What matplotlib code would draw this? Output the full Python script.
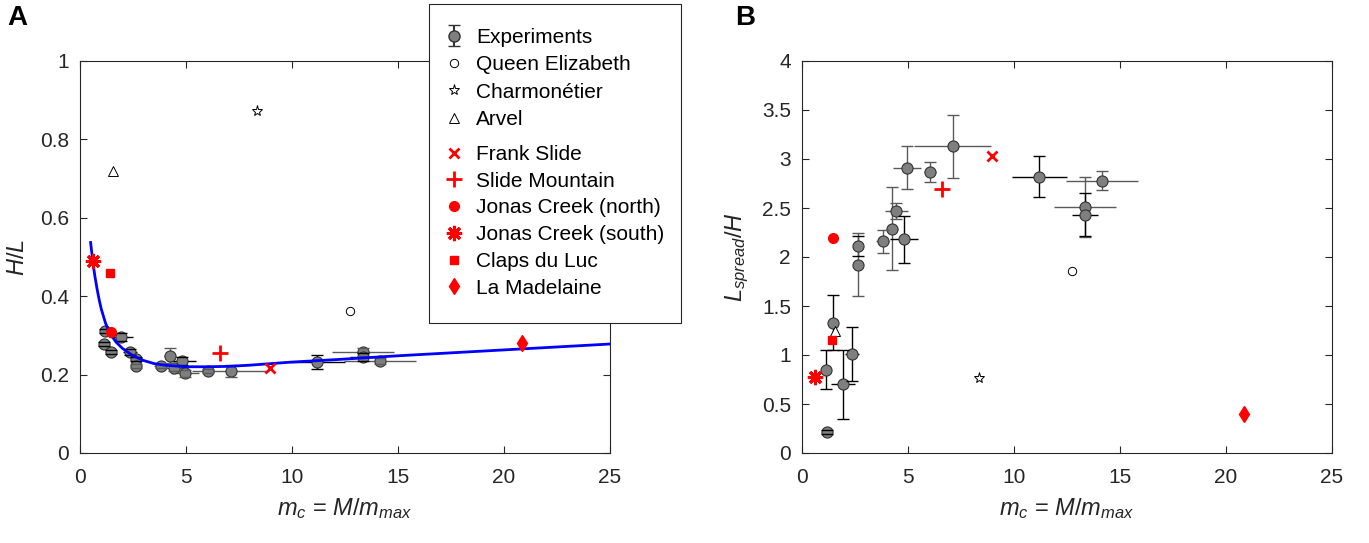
import numpy as np
import matplotlib
matplotlib.use('Agg')
import matplotlib.pyplot as plt
from matplotlib.ticker import FuncFormatter
from matplotlib.patches import Rectangle

plt.rcParams['font.family'] = ['Liberation Sans', 'DejaVu Sans']
plt.rcParams['mathtext.fontset'] = 'custom'
plt.rcParams['mathtext.rm'] = 'Liberation Sans'
plt.rcParams['mathtext.it'] = 'Liberation Sans:italic'

# ---------------- data ----------------
# experiments (same runs in both panels)
exp_m = [1.12, 1.18, 1.46, 1.94, 2.36, 2.62, 2.62, 3.80, 4.24, 4.45,
         4.82, 4.95, 6.04, 7.10, 11.2, 13.35, 13.35, 14.15]
exp_m_err = [0.15, 0.2, 0.15, 0.55, 0.35, 0.2, 0.2, 0.3, 0.3, 0.54,
             0.65, 0.67, 0.28, 1.8, 1.3, 1.48, 0.6, 1.7]
exp_hl = [0.278, 0.312, 0.257, 0.295, 0.257, 0.240, 0.222, 0.223, 0.248, 0.216,
          0.234, 0.203, 0.210, 0.210, 0.232, 0.258, 0.245, 0.235]
exp_hl_err = [0.005, 0.005, 0.005, 0.01, 0.008, 0.005, 0.005, 0.005, 0.019, 0.008,
              0.01, 0.008, 0.005, 0.015, 0.017, 0.01, 0.01, 0.008]
exp_ls = [0.85, 0.21, 1.33, 0.70, 1.01, 2.11, 1.92, 2.16, 2.29, 2.47,
          2.18, 2.91, 2.87, 3.13, 2.82, 2.51, 2.43, 2.78]
exp_ls_err = [0.2, 0.02, 0.28, 0.35, 0.28, 0.1, 0.32, 0.12, 0.42, 0.08,
              0.24, 0.22, 0.1, 0.32, 0.21, 0.31, 0.22, 0.1]
exp_dark = [1, 1, 1, 1, 1, 1, 0, 0, 0, 0, 1, 0, 0, 0, 1, 0, 1, 0]

# fitted curve in panel A
fit_m = [0.5, 0.6, 0.7, 0.8, 0.9, 1.0, 1.2, 1.4, 1.7, 2.0, 2.5, 3.0, 3.5, 4.0,
         5.0, 6.0, 7.0, 8.0, 10, 12, 15, 18, 21, 25]
fit_hl = [0.537, 0.49, 0.452, 0.420, 0.392, 0.368, 0.332, 0.306, 0.283, 0.267,
          0.248, 0.236, 0.228, 0.224, 0.220, 0.220, 0.221, 0.224, 0.232, 0.238,
          0.248, 0.257, 0.266, 0.278]

# field events
field_names = ['Queen Elizabeth', 'Charmonétier', 'Arvel', 'Frank Slide',
               'Slide Mountain', 'Jonas Creek (north)', 'Jonas Creek (south)',
               'Claps du Luc', 'La Madelaine']
field_m = [12.75, 8.35, 1.56, 8.98, 6.61, 1.44, 0.62, 1.43, 20.85]
field_hl = [0.362, 0.872, 0.719, 0.217, 0.254, 0.308, 0.49, 0.458, 0.28]
field_ls = [1.86, 0.77, 1.25, 3.03, 2.69, 2.19, 0.78, 1.15, 0.40]

field_style = [
    dict(marker='o', ms=6, mfc='white', mec='black', mew=0.7),
    dict(marker='*', ms=8, mfc='white', mec='black', mew=0.7),
    dict(marker='^', ms=7, mfc='white', mec='black', mew=0.7),
    dict(marker='x', ms=7, mec='red', mew=2),
    dict(marker='+', ms=11, mec='red', mew=2),
    dict(marker='o', ms=7, mfc='red', mec='red'),
    dict(marker=(8, 2, 0), ms=11, mec='red', mew=2.2),
    dict(marker='s', ms=6, mfc='red', mec='red'),
    dict(marker='d', ms=8, mfc='red', mec='red'),
]

axcol = '#262626'
W, H = 1369, 543
fig = plt.figure(figsize=(W / 100, H / 100), dpi=100)
ax_a = fig.add_axes([80 / W, 90 / H, 530 / W, 392 / H])
ax_b = fig.add_axes([802 / W, 90 / H, 530 / W, 392 / H])


def draw_exp(ax, y, yerr):
    for i in range(len(exp_m)):
        c = 'black' if exp_dark[i] else '#5a5a5a'
        ax.errorbar(exp_m[i], y[i], xerr=exp_m_err[i], fmt='none', ecolor=c,
                    elinewidth=1, capsize=0, zorder=2)
        _, caps, _ = ax.errorbar(exp_m[i], y[i], yerr=yerr[i], fmt='none', ecolor=c,
                                 elinewidth=1, capsize=4, capthick=1, zorder=2)
        for cp in caps:
            cp.set_zorder(4)
    ax.plot(exp_m, y, 'o', mfc='#7f7f7f', mec='#333333', ms=8, mew=0.8, zorder=3)


def draw_field(ax, y):
    handles = []
    for i in range(len(field_names)):
        h, = ax.plot(field_m[i], y[i], ls='none', zorder=5, **field_style[i])
        handles.append(h)
    return handles


draw_exp(ax_a, exp_hl, exp_hl_err)
ax_a.plot(fit_m, fit_hl, color='blue', lw=2, zorder=4)
fh = draw_field(ax_a, field_hl)

draw_exp(ax_b, exp_ls, exp_ls_err)
draw_field(ax_b, field_ls)

exp_handle = ax_a.errorbar([np.nan], [np.nan], yerr=[1], fmt='o', mfc='#7f7f7f',
                           mec='#333333', ms=8, ecolor='#333333', capsize=4)

fmt = FuncFormatter(lambda v, p: '%g' % v)
for ax in (ax_a, ax_b):
    ax.set_xlim(0, 25)
    ax.set_xticks([0, 5, 10, 15, 20, 25])
    ax.xaxis.set_major_formatter(fmt)
    ax.yaxis.set_major_formatter(fmt)
    ax.tick_params(direction='in', top=True, right=True, length=5, width=0.8,
                   labelsize=15, colors=axcol)
    ax.tick_params(axis='x', pad=11)
    ax.tick_params(axis='y', pad=8)
    for s in ax.spines.values():
        s.set_color(axcol)
        s.set_linewidth(0.8)
    ax.set_xlabel(r'$m_c$ = $M/m_{max}$', fontsize=17, color=axcol, labelpad=6)

ax_a.set_ylim(0, 1)
ax_a.set_yticks([0, 0.2, 0.4, 0.6, 0.8, 1])
ax_a.set_ylabel(r'$H/L$', fontsize=17, color=axcol, labelpad=8)
ax_b.set_ylim(0, 4)
ax_b.set_yticks(np.arange(0, 4.01, 0.5))
ax_b.set_ylabel(r'$L_{spread}/H$', fontsize=17, color=axcol, labelpad=8)

# legend box drawn separately so padding can match the original
box = Rectangle((429 / W, 1 - 323 / H), 252 / W, 319 / H, transform=fig.transFigure,
                facecolor='white', edgecolor=axcol, lw=0.8, zorder=5)
fig.add_artist(box)
leg_kw = dict(loc='upper left', fontsize=15, frameon=False,
              borderpad=0, handlelength=1.0, handletextpad=0.55, borderaxespad=0)
leg1 = fig.legend([exp_handle] + fh[:3], ['Experiments'] + field_names[:3],
                  bbox_to_anchor=(444 / W, 1 - 28 / H), labelspacing=0.4, **leg_kw)
leg2 = fig.legend(fh[3:], field_names[3:],
                  bbox_to_anchor=(444 / W, 1 - 145 / H), labelspacing=0.37, **leg_kw)
leg1.set_zorder(6)
leg2.set_zorder(6)

fig.text(17 / W, 1 - 18 / H, 'A', fontsize=20, fontweight='bold',
         ha='center', va='center')
fig.text(745 / W, 1 - 18 / H, 'B', fontsize=20, fontweight='bold',
         ha='center', va='center')

fig.savefig('out.png', dpi=100)
